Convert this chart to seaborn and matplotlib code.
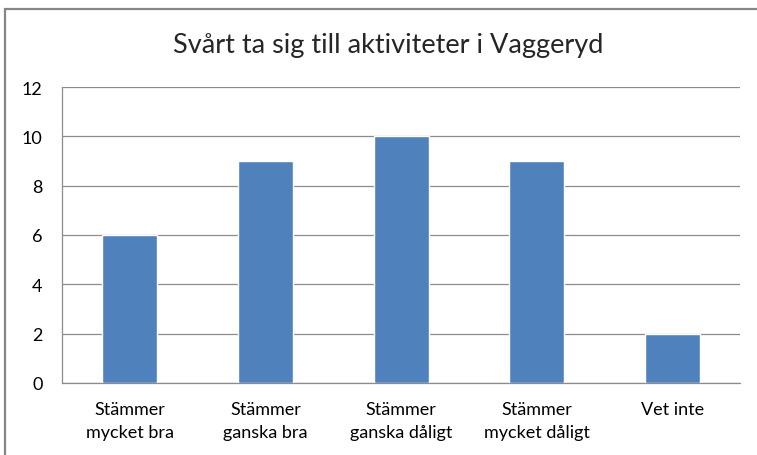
import matplotlib
matplotlib.use("Agg")
import matplotlib.pyplot as plt
import seaborn as sns
import pandas as pd
from matplotlib.patches import Rectangle

categories = ["Stämmer\nmycket bra", "Stämmer\nganska bra", "Stämmer\nganska dåligt",
              "Stämmer\nmycket dåligt", "Vet inte"]
counts = [6, 9, 10, 9, 2]
y_ticks = [0, 2, 4, 6, 8, 10, 12]
title = "Svårt ta sig till aktiviteter i Vaggeryd"

df = pd.DataFrame({"kategori": categories, "antal": counts})

sns.set_style("white")
plt.rcParams["font.family"] = ["Lato", "DejaVu Sans"]

fig = plt.figure(figsize=(7.57, 4.56), dpi=100)
ax = fig.add_axes([0.082, 0.158, 0.896, 0.649])

sns.barplot(data=df, x="kategori", y="antal", color="#4F81BD", width=0.405,
            saturation=1, ax=ax, zorder=3)

ax.set_ylim(0, 12)
ax.set_yticks(y_ticks)
ax.set_xlim(-0.5, len(categories) - 0.5)
ax.grid(axis="y", color="#8C8C8C", linewidth=0.9, zorder=0)
ax.set_xlabel("")
ax.set_ylabel("")
for side in ["top", "right"]:
    ax.spines[side].set_visible(False)
for side in ["left", "bottom"]:
    ax.spines[side].set_color("#8C8C8C")
    ax.spines[side].set_linewidth(0.9)
ax.tick_params(axis="both", labelsize=13, colors="black", length=0)
ax.tick_params(axis="y", pad=14)
ax.tick_params(axis="x", pad=13)
for lbl in ax.get_xticklabels():
    lbl.set_linespacing(1.5)

fig.text(0.513, 0.9, title, ha="center", va="center", fontsize=19.5)

# chart border
fig.patches.append(Rectangle((5 / 757, -0.05), 1.0, 0.978 + 0.05,
                             transform=fig.transFigure, fill=False,
                             edgecolor="#868686", linewidth=1.6))

fig.savefig("out.png", dpi=100)
